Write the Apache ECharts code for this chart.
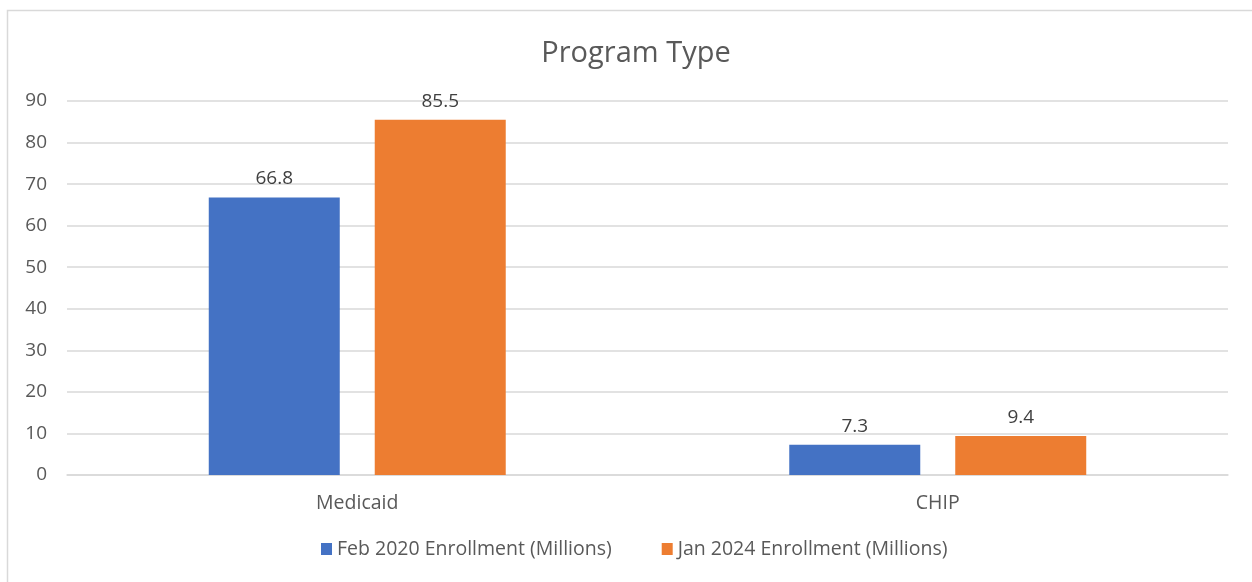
<!DOCTYPE html>
<html><head><meta charset="utf-8">
<script src="https://cdn.jsdelivr.net/npm/echarts@6/dist/echarts.min.js"></script>
<style>html,body{margin:0;padding:0;background:#fff}#c{width:1252px;height:582px}</style>
</head><body><div id="c"></div>
<script>
const categories = ["Medicaid", "CHIP"];
const seriesNames = ["Feb 2020 Enrollment (Millions)", "Jan 2024 Enrollment (Millions)"];
const feb2020 = [66.8, 7.3];
const jan2024 = [85.5, 9.4];
const colors = ["#4472C4", "#ED7D31"];
const FONT = "'Open Sans', Lato, sans-serif";
const chart = echarts.init(document.getElementById('c'));
const label = {show:true, position:'top', distance:9, color:'#404040', fontSize:19, fontFamily:FONT};
chart.setOption({
  animation:false,
  graphic:[{type:'rect', shape:{x:7.5,y:10.5,width:1300,height:700}, style:{fill:'none', stroke:'#d9d9d9', lineWidth:1.5}, silent:true}],
  title:{text:'Program Type', left:631, textAlign:'center', top:34, textStyle:{fontSize:29, fontWeight:'normal', color:'#595959', fontFamily:FONT}},
  grid:{left:67, right:24, top:101, bottom:107, containLabel:false},
  legend:{bottom:18, left:316, itemWidth:11, itemHeight:12, itemGap:50, icon:'rect',
    textStyle:{fontSize:19.5, color:'#595959', fontFamily:FONT}, data:seriesNames},
  xAxis:{type:'category', data:categories, axisTick:{show:false},
    axisLine:{lineStyle:{color:'#d9d9d9', width:1.5}},
    axisLabel:{fontSize:19.5, color:'#595959', margin:18, fontFamily:FONT}},
  yAxis:{type:'value', min:0, max:90, interval:10,
    axisLine:{show:false}, axisTick:{show:false},
    splitLine:{lineStyle:{color:'#d9d9d9', width:1.5}},
    axisLabel:{fontSize:19, color:'#595959', margin:20, fontFamily:FONT}},
  series:[
    {name:seriesNames[0], type:'bar', data:feb2020, barWidth:131, barGap:'26.7%', itemStyle:{color:colors[0]}, label:label},
    {name:seriesNames[1], type:'bar', data:jan2024, barWidth:131, itemStyle:{color:colors[1]}, label:label}
  ]
});
</script></body></html>
